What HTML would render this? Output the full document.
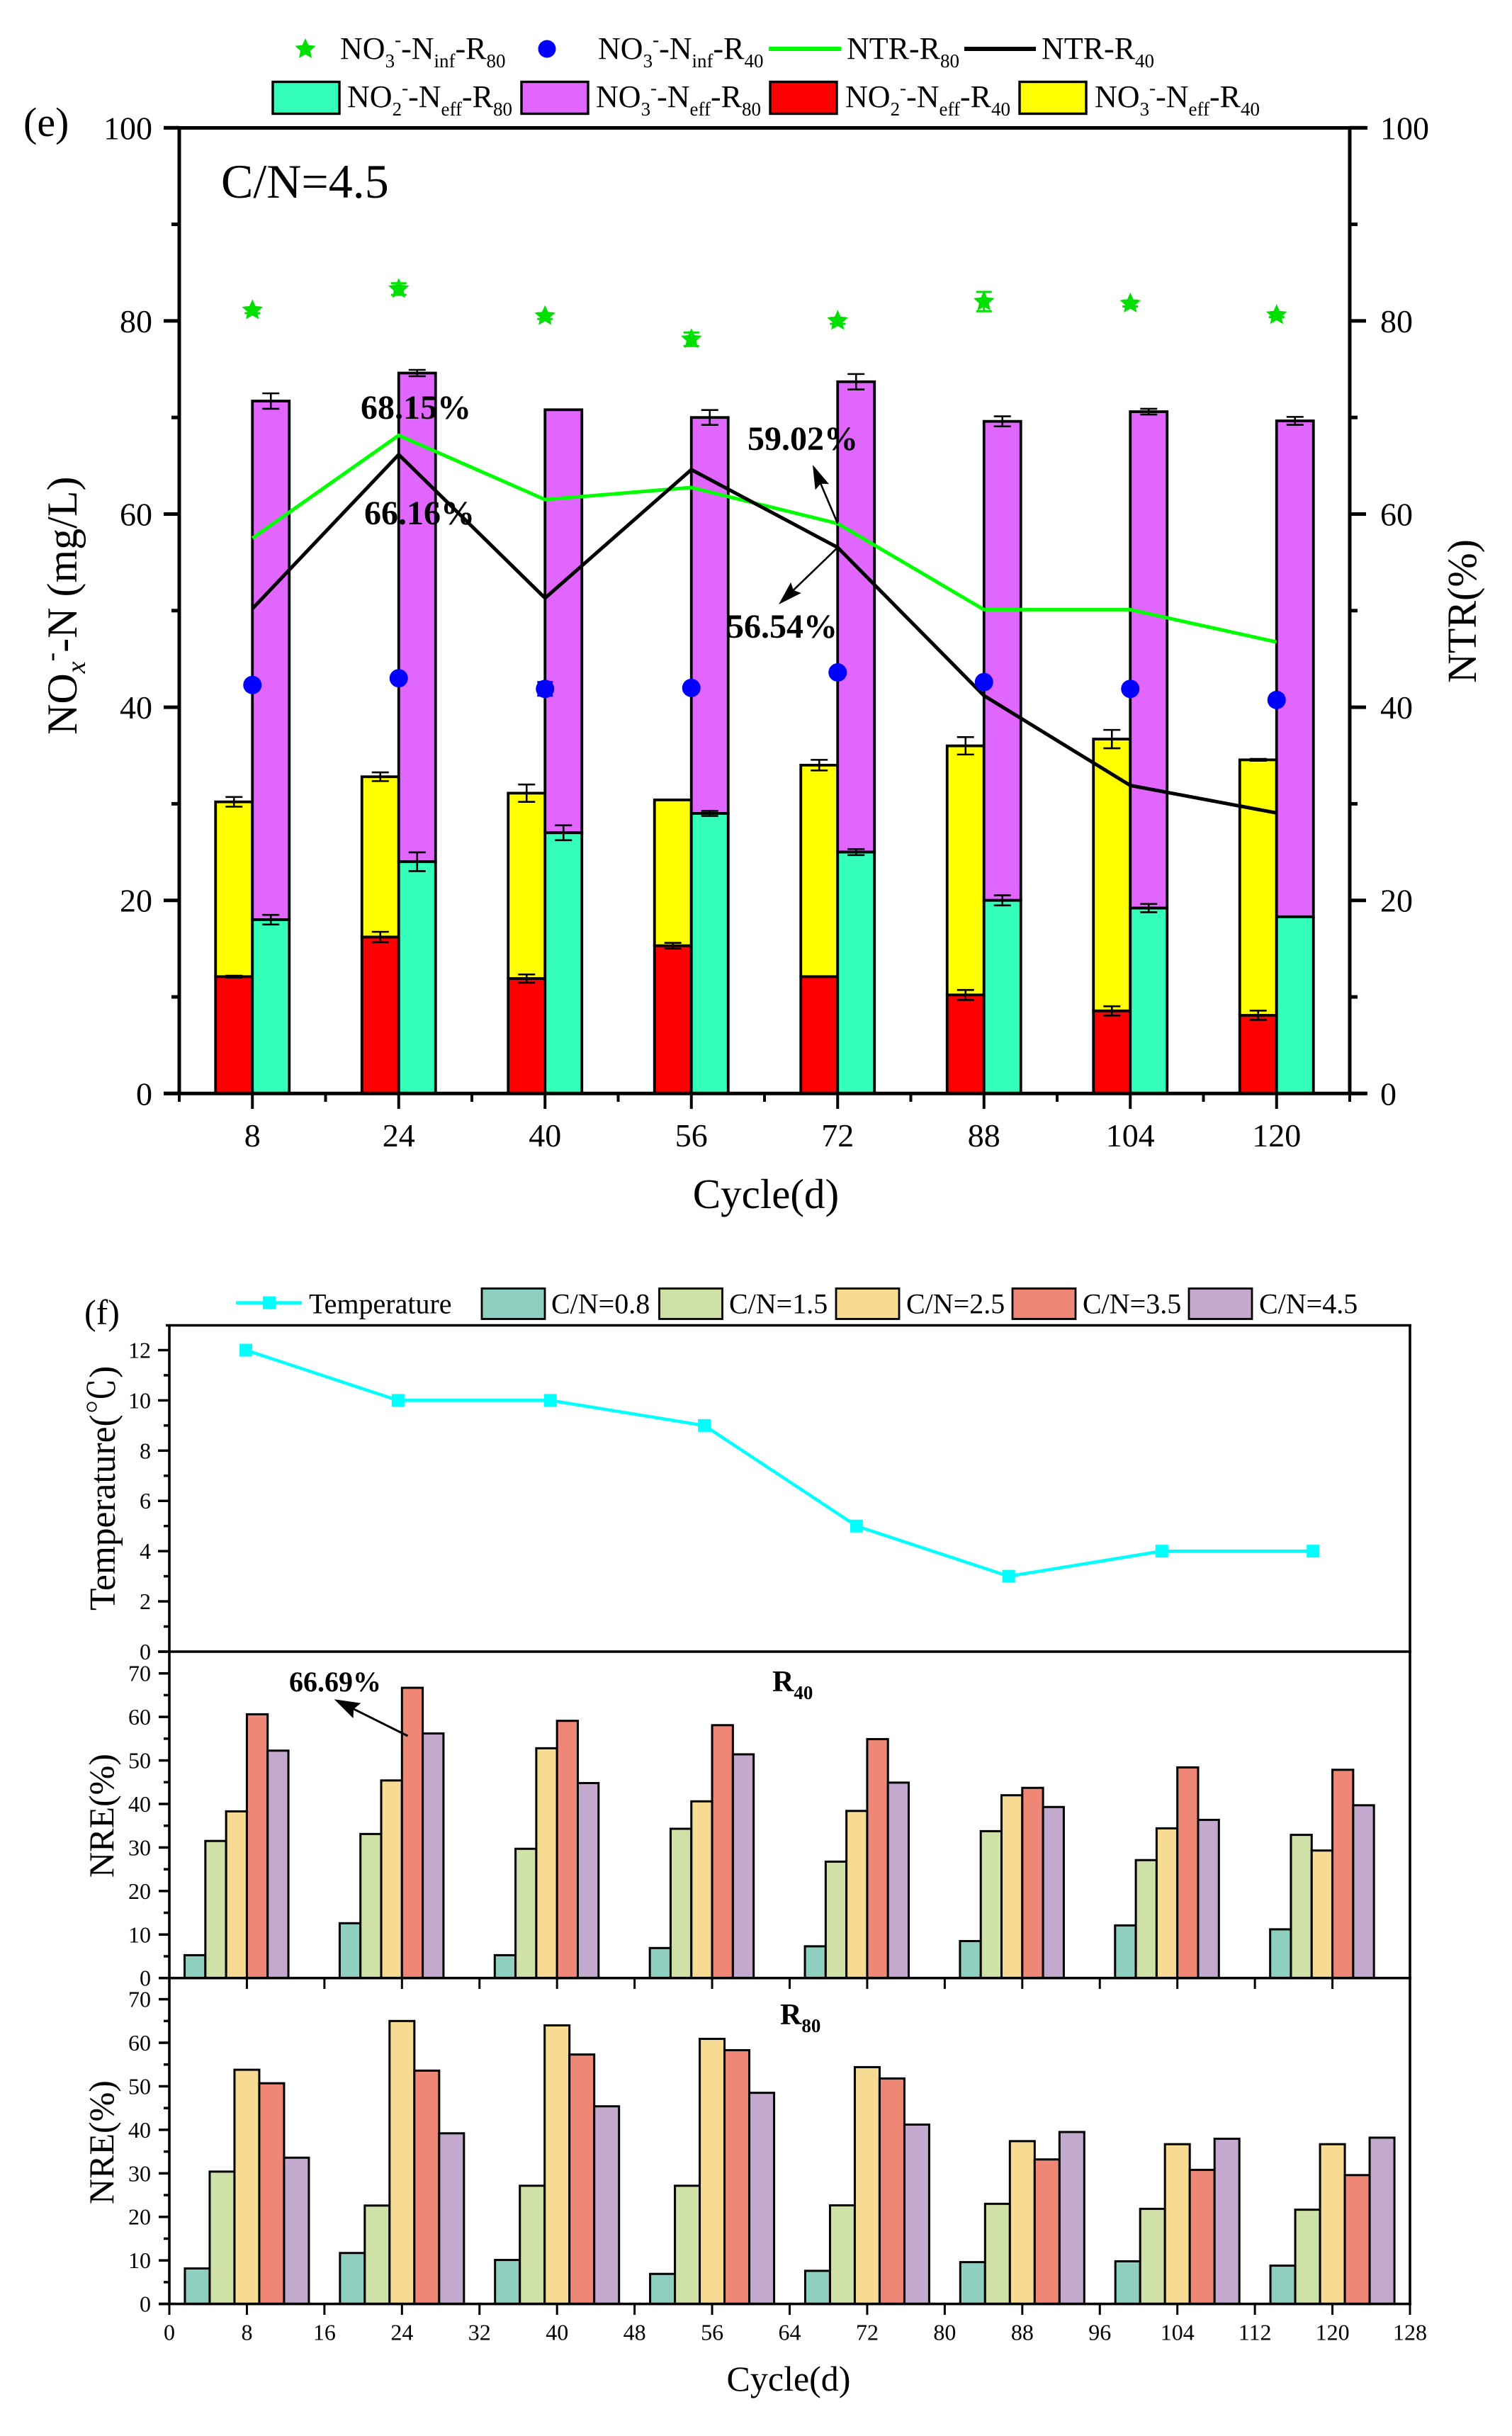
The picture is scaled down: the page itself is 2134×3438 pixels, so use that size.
<!DOCTYPE html>
<html lang="en">
<head>
<meta charset="utf-8">
<title>NOx-N, NTR, temperature and NRE charts</title>
<style>
html,body{margin:0;padding:0;background:#fff;width:2134px;height:3438px;overflow:hidden}
svg{display:block;position:absolute;left:0;top:0}
text{font-family:"Liberation Serif","Noto Serif CJK SC",serif;fill:#000}
.leg{font-size:44px}
.s{font-size:27px}
.leg2{font-size:40px}
</style>
</head>
<body>
<svg id="fig" xmlns="http://www.w3.org/2000/svg" width="2134" height="3438" viewBox="0 0 2134 3438">
  <rect x="0" y="0" width="2134" height="3438" fill="#fff"/>

  <g id="layer-e"></g>
  <g id="layer-f"></g>

  <!-- chart e frame -->
  <g stroke="#000" stroke-width="5" fill="none">
    <line x1="253" y1="180" x2="253" y2="1543"/>
    <line x1="1905" y1="180" x2="1905" y2="1543"/>
    <line x1="231" y1="180.5" x2="1930" y2="180.5"/>
    <line x1="231" y1="1543.3" x2="1930" y2="1543.3"/>
  </g>
  <g id="ticks-e"></g>

  <!-- chart e legend -->
  <g>
    <polygon id="leg-star" fill="#00E000"/>
    <text class="leg" x="480" y="83">NO<tspan class="s" dy="12">3</tspan><tspan class="s" dy="-30">-</tspan><tspan dy="18">-N</tspan><tspan class="s" dy="12">inf</tspan><tspan dy="-12">-R</tspan><tspan class="s" dy="12">80</tspan></text>
    <circle cx="772" cy="69" r="12.5" fill="#0000FF"/>
    <text class="leg" x="844" y="83">NO<tspan class="s" dy="12">3</tspan><tspan class="s" dy="-30">-</tspan><tspan dy="18">-N</tspan><tspan class="s" dy="12">inf</tspan><tspan dy="-12">-R</tspan><tspan class="s" dy="12">40</tspan></text>
    <line x1="1085" y1="69" x2="1187" y2="69" stroke="#00FF00" stroke-width="6"/>
    <text class="leg" x="1195" y="83">NTR-R<tspan class="s" dy="12">80</tspan></text>
    <line x1="1361" y1="69" x2="1462" y2="69" stroke="#000" stroke-width="6"/>
    <text class="leg" x="1470" y="83">NTR-R<tspan class="s" dy="12">40</tspan></text>

    <rect x="385" y="115.5" width="94" height="45" fill="#33FFBB" stroke="#000" stroke-width="3.4"/>
    <text class="leg" x="490" y="151">NO<tspan class="s" dy="12">2</tspan><tspan class="s" dy="-30">-</tspan><tspan dy="18">-N</tspan><tspan class="s" dy="12">eff</tspan><tspan dy="-12">-R</tspan><tspan class="s" dy="12">80</tspan></text>
    <rect x="736" y="115.5" width="94" height="45" fill="#E066FF" stroke="#000" stroke-width="3.4"/>
    <text class="leg" x="841" y="151">NO<tspan class="s" dy="12">3</tspan><tspan class="s" dy="-30">-</tspan><tspan dy="18">-N</tspan><tspan class="s" dy="12">eff</tspan><tspan dy="-12">-R</tspan><tspan class="s" dy="12">80</tspan></text>
    <rect x="1087" y="115.5" width="94" height="45" fill="#FF0000" stroke="#000" stroke-width="3.4"/>
    <text class="leg" x="1193" y="151">NO<tspan class="s" dy="12">2</tspan><tspan class="s" dy="-30">-</tspan><tspan dy="18">-N</tspan><tspan class="s" dy="12">eff</tspan><tspan dy="-12">-R</tspan><tspan class="s" dy="12">40</tspan></text>
    <rect x="1439" y="115.5" width="94" height="45" fill="#FFFF00" stroke="#000" stroke-width="3.4"/>
    <text class="leg" x="1545" y="151">NO<tspan class="s" dy="12">3</tspan><tspan class="s" dy="-30">-</tspan><tspan dy="18">-N</tspan><tspan class="s" dy="12">eff</tspan><tspan dy="-12">-R</tspan><tspan class="s" dy="12">40</tspan></text>
  </g>

  <text x="33" y="192" font-size="58">(e)</text>
  <text x="312" y="279" font-size="68">C/N=4.5</text>
  <text transform="translate(108,1037) rotate(-90)" font-size="60">NO<tspan font-size="38" font-style="italic" dy="12">x</tspan><tspan font-size="38" dy="-36">-</tspan><tspan dy="24">-N (mg/L)</tspan></text>
  <text transform="translate(2083,964) rotate(-90)" font-size="58">NTR(%)</text>
  <text x="1081" y="1705" font-size="59" text-anchor="middle">Cycle(d)</text>

  <g font-weight="bold" font-size="48">
    <text x="509" y="591">68.15%</text>
    <text x="514" y="740">66.16%</text>
    <text x="1055" y="635">59.02%</text>
    <text x="1026" y="900">56.54%</text>
  </g>

  <!-- chart f frame -->
  <g stroke="#000" fill="none">
    <line x1="239" y1="1870" x2="239" y2="3252" stroke-width="3.6"/>
    <line x1="1990" y1="1870" x2="1990" y2="3252" stroke-width="3.6"/>
    <line x1="234" y1="1870.5" x2="1992" y2="1870.5" stroke-width="3.6"/>
    <line x1="224" y1="2331" x2="1992" y2="2331" stroke-width="3.6"/>
    <line x1="224" y1="2791.7" x2="1992" y2="2791.7" stroke-width="3.6"/>
    <line x1="224" y1="3251.6" x2="1992" y2="3251.6" stroke-width="3.6"/>
  </g>
  <g id="ticks-f"></g>

  <!-- chart f legend -->
  <g>
    <line x1="333" y1="1838.6" x2="426" y2="1838.6" stroke="#00FFFF" stroke-width="4.5"/>
    <rect x="371" y="1829.6" width="18" height="18" fill="#00FFFF"/>
    <text class="leg2" x="436" y="1853.5">Temperature</text>
    <rect x="680" y="1818.5" width="89" height="43" fill="#8ECFC0" stroke="#000" stroke-width="2.8"/>
    <text class="leg2" x="778" y="1853.5">C/N=0.8</text>
    <rect x="930.5" y="1818.5" width="89" height="43" fill="#CFE1A6" stroke="#000" stroke-width="2.8"/>
    <text class="leg2" x="1029" y="1853.5">C/N=1.5</text>
    <rect x="1180" y="1818.5" width="89" height="43" fill="#F8DB92" stroke="#000" stroke-width="2.8"/>
    <text class="leg2" x="1279" y="1853.5">C/N=2.5</text>
    <rect x="1429" y="1818.5" width="89" height="43" fill="#EF8776" stroke="#000" stroke-width="2.8"/>
    <text class="leg2" x="1528" y="1853.5">C/N=3.5</text>
    <rect x="1678" y="1818.5" width="89" height="43" fill="#C4A9CF" stroke="#000" stroke-width="2.8"/>
    <text class="leg2" x="1777" y="1853.5">C/N=4.5</text>
  </g>

  <text x="119" y="1869" font-size="50">(f)</text>
  <text transform="translate(162,2273) rotate(-90)" font-size="51.5">Temperature(℃)</text>
  <text transform="translate(160,2650) rotate(-90)" font-size="50">NRE(%)</text>
  <text transform="translate(160,3111) rotate(-90)" font-size="50">NRE(%)</text>
  <text x="1113" y="3374" font-size="50" text-anchor="middle">Cycle(d)</text>
  <text x="1090" y="2387" font-size="42" font-weight="bold">R<tspan font-size="27" dy="11">40</tspan></text>
  <text x="1101" y="2857" font-size="42" font-weight="bold">R<tspan font-size="27" dy="11">80</tspan></text>
  <text x="408" y="2387" font-size="40" font-weight="bold">66.69%</text>
</svg>

<script>
// ---------- chart (e) data ----------
const cyclesE = [8, 24, 40, 56, 72, 88, 104, 120];
const no2EffR40 = [12.1, 16.2, 11.9, 15.3, 12.1, 10.2, 8.55, 8.1];
const no2EffR40Err = [0.1, 0.54, 0.43, 0.3, 0, 0.52, 0.48, 0.48];
const stackTopR40 = [30.2, 32.8, 31.1, 30.4, 34.0, 36.0, 36.7, 34.55];
const stackTopR40Err = [0.5, 0.45, 0.9, 0, 0.55, 0.9, 0.95, 0.1];
const no2EffR80 = [18.0, 24.0, 27.0, 29.0, 25.0, 20.0, 19.2, 18.3];
const no2EffR80Err = [0.5, 0.97, 0.77, 0.26, 0.31, 0.52, 0.43, 0];
const stackTopR80 = [71.7, 74.6, 70.8, 70.0, 73.7, 69.6, 70.6, 69.65];
const stackTopR80Err = [0.8, 0.33, 0, 0.77, 0.8, 0.52, 0.3, 0.41];
const no3InfR80 = [81.1, 83.3, 80.5, 78.1, 80.0, 82.0, 81.8, 80.6];
const no3InfR80Err = [0.3, 0.6, 0.3, 0.7, 0.3, 1.0, 0.3, 0.2];
const no3InfR40 = [42.3, 43.0, 41.9, 42.0, 43.6, 42.6, 41.9, 40.75];
const no3InfR40Err = [0.1, 0.1, 0.7, 0.1, 0.1, 0.1, 0.1, 0.1];
const ntrR80 = [57.5, 68.15, 61.5, 62.75, 59.02, 50.1, 50.1, 46.75];
const ntrR40 = [50.2, 66.16, 51.3, 64.6, 56.54, 41.2, 31.9, 29.05];
const yTicksE = [0, 20, 40, 60, 80, 100];
const yMinorE = [10, 30, 50, 70, 90];
const xTicksE = [8, 24, 40, 56, 72, 88, 104, 120];
const xMinorE = [0, 16, 32, 48, 64, 80, 96, 112, 128];

// ---------- chart (f) data ----------
const tempDays = [7.9, 23.6, 39.3, 55.2, 70.9, 86.6, 102.4, 118];
const tempValues = [12, 10, 10, 9, 5, 3, 4, 4];
const tempTicks = [0, 2, 4, 6, 8, 10, 12];
const tempMinor = [1, 3, 5, 7, 9, 11];
const nreTicks = [0, 10, 20, 30, 40, 50, 60, 70];
const nreMinor = [5, 15, 25, 35, 45, 55, 65];
const cyclesF = [8, 24, 40, 56, 72, 88, 104, 120];
const xTicksF = [0, 8, 16, 24, 32, 40, 48, 56, 64, 72, 80, 88, 96, 104, 112, 120, 128];
const seriesNames = ['cn-0-8', 'cn-1-5', 'cn-2-5', 'cn-3-5', 'cn-4-5'];
const r40Cn08 = [5.26, 12.6, 5.26, 6.9, 7.3, 8.5, 12.1, 11.2];
const r40Cn15 = [31.5, 33.1, 29.7, 34.3, 26.75, 33.75, 27.1, 32.9];
const r40Cn25 = [38.3, 45.4, 52.8, 40.6, 38.4, 42.0, 34.4, 29.3];
const r40Cn35 = [60.6, 66.69, 59.1, 58.1, 54.9, 43.7, 48.4, 47.85];
const r40Cn45 = [52.25, 56.2, 44.8, 51.4, 44.9, 39.3, 36.35, 39.7];
const r80Cn08 = [8.15, 11.7, 10.1, 6.9, 7.6, 9.6, 9.8, 8.8];
const r80Cn15 = [30.4, 22.6, 27.15, 27.15, 22.65, 23.0, 21.85, 21.65];
const r80Cn25 = [53.8, 65.0, 64.0, 60.9, 54.4, 37.4, 36.7, 36.7];
const r80Cn35 = [50.7, 53.6, 57.3, 58.3, 51.8, 33.2, 30.8, 29.6];
const r80Cn45 = [33.6, 39.2, 45.4, 48.5, 41.2, 39.5, 37.95, 38.2];

// ---------- axis functions ----------
const xE = d => 253 + d * (1652 / 128);
const yE = v => 1543.3 - v * 13.63;
const xF = d => 239 + d * (1751 / 128);
const yT = v => 2331 - v * 35.46;
const yR40 = v => 2791.7 - v * 6.143;
const yR80 = v => 3251.6 - v * 6.143;

const NS = 'http://www.w3.org/2000/svg';
function mk(tag, parent, attrs) {
  const n = document.createElementNS(NS, tag);
  for (const k in attrs) n.setAttribute(k, attrs[k]);
  parent.appendChild(n);
  return n;
}
function starPoints(cx, cy, R) {
  const pts = [];
  for (let i = 0; i < 10; i++) {
    const r = i % 2 ? R * 0.47 : R;
    const a = -Math.PI / 2 + i * Math.PI / 5;
    pts.push((cx + r * Math.cos(a)).toFixed(1) + ',' + (cy + r * Math.sin(a)).toFixed(1));
  }
  return pts.join(' ');
}
function drawArrow(parent, name, x1, y1, x2, y2, width, headLen, headW) {
  const dx = x2 - x1, dy = y2 - y1, L = Math.hypot(dx, dy), ux = dx / L, uy = dy / L;
  const shaft = mk('line', parent, {x1: x1, y1: y1, x2: x2 - ux * headLen * 0.8, y2: y2 - uy * headLen * 0.8, stroke: '#000', 'stroke-width': width});
  
  
  const bx = x2 - ux * headLen, by = y2 - uy * headLen;
  const nx = x2 - ux * headLen * 0.85, ny = y2 - uy * headLen * 0.85;
  const pts = [x2 + ',' + y2,
    (bx - uy * headW / 2) + ',' + (by + ux * headW / 2),
    nx + ',' + ny,
    (bx + uy * headW / 2) + ',' + (by - ux * headW / 2)].join(' ');
  const head = mk('polygon', parent, {points: pts, fill: '#000'});
  
  
}
function errorBar(parent, name, cx, yTop, yBottom, cap, color, width) {
  const g = mk('g', parent, {stroke: color, 'stroke-width': width, fill: 'none'});
  
  
  mk('line', g, {x1: cx, y1: yTop, x2: cx, y2: yBottom});
  mk('line', g, {x1: cx - cap, y1: yTop, x2: cx + cap, y2: yTop});
  mk('line', g, {x1: cx - cap, y1: yBottom, x2: cx + cap, y2: yBottom});
}

const layerE = document.getElementById('layer-e');
const layerF = document.getElementById('layer-f');
const ticksE = document.getElementById('ticks-e');
const ticksF = document.getElementById('ticks-f');

// ---------- chart (e): stacked bars ----------
const barW = 52;
cyclesE.forEach((d, i) => {
  const cx = xE(d);
  const parts = [
    ['yellow-no3-r40', cx - barW, stackTopR40[i], no2EffR40[i], '#FFFF00'],
    ['red-no2-r40', cx - barW, no2EffR40[i], 0, '#FF0000'],
    ['purple-no3-r80', cx, stackTopR80[i], no2EffR80[i], '#E066FF'],
    ['teal-no2-r80', cx, no2EffR80[i], 0, '#33FFBB']
  ];
  parts.forEach(p => {
    const b = mk('rect', layerE, {x: p[1], y: yE(p[2]), width: barW, height: yE(p[3]) - yE(p[2]), fill: p[4], stroke: '#000', 'stroke-width': 3.8});
    
    
  });
});
cyclesE.forEach((d, i) => {
  const cx = xE(d), L = cx - barW / 2, R = cx + barW / 2;
  errorBar(layerE, 'error-no2-r40-' + d, L, yE(no2EffR40[i] + no2EffR40Err[i]), yE(no2EffR40[i] - no2EffR40Err[i]), 12, '#000', 2.6);
  errorBar(layerE, 'error-stack-r40-' + d, L, yE(stackTopR40[i] + stackTopR40Err[i]), yE(stackTopR40[i] - stackTopR40Err[i]), 12, '#000', 2.6);
  errorBar(layerE, 'error-no2-r80-' + d, R, yE(no2EffR80[i] + no2EffR80Err[i]), yE(no2EffR80[i] - no2EffR80Err[i]), 12, '#000', 2.6);
  errorBar(layerE, 'error-stack-r80-' + d, R, yE(stackTopR80[i] + stackTopR80Err[i]), yE(stackTopR80[i] - stackTopR80Err[i]), 12, '#000', 2.6);
});

// ---------- chart (e): lines ----------
const lineG = mk('polyline', layerE, {points: cyclesE.map((d, i) => xE(d) + ',' + yE(ntrR80[i])).join(' '), fill: 'none', stroke: '#00FF00', 'stroke-width': 5});


const lineK = mk('polyline', layerE, {points: cyclesE.map((d, i) => xE(d) + ',' + yE(ntrR40[i])).join(' '), fill: 'none', stroke: '#000', 'stroke-width': 5});



// ---------- chart (e): markers ----------
cyclesE.forEach((d, i) => {
  const cx = xE(d);
  errorBar(layerE, 'error-inf-r80-' + d, cx, yE(no3InfR80[i] + no3InfR80Err[i]), yE(no3InfR80[i] - no3InfR80Err[i]), 11, '#00E000', 3);
  const s = mk('polygon', layerE, {points: starPoints(cx, yE(no3InfR80[i]), 15.5), fill: '#00E000'});
  
  
  errorBar(layerE, 'error-inf-r40-' + d, cx, yE(no3InfR40[i] + no3InfR40Err[i]), yE(no3InfR40[i] - no3InfR40Err[i]), 11, '#0000FF', 3);
  const c = mk('circle', layerE, {cx: cx, cy: yE(no3InfR40[i]), r: 13, fill: '#0000FF'});
  
  
});
document.getElementById('leg-star').setAttribute('points', starPoints(431, 69.5, 15.5));

// ---------- chart (e): arrows ----------
drawArrow(layerE, 'arrow-59-02', xE(72), yE(ntrR80[4]), 1147, 656, 2.6, 34, 21);
drawArrow(layerE, 'arrow-56-54', xE(72), yE(ntrR40[4]), 1099, 853, 2.6, 34, 21);

// ---------- chart (e): ticks ----------
yTicksE.forEach(v => {
  const y = yE(v);
  const a = mk('line', ticksE, {x1: 231, y1: y, x2: 253, y2: y, stroke: '#000', 'stroke-width': 5});
  
  
  const b = mk('line', ticksE, {x1: 1905, y1: y, x2: 1928, y2: y, stroke: '#000', 'stroke-width': 5});
  
  
  const t1 = mk('text', ticksE, {x: 215, y: y + 16, 'font-size': 46, 'text-anchor': 'end'});
  t1.textContent = v;
  
  
  const t2 = mk('text', ticksE, {x: 1948, y: y + 16, 'font-size': 46});
  t2.textContent = v;
  
  
});
yMinorE.forEach(v => {
  const y = yE(v);
  const a = mk('line', ticksE, {x1: 242, y1: y, x2: 253, y2: y, stroke: '#000', 'stroke-width': 5});
  
  
  const b = mk('line', ticksE, {x1: 1905, y1: y, x2: 1916, y2: y, stroke: '#000', 'stroke-width': 5});
  
  
});
xTicksE.forEach(d => {
  const x = xE(d);
  const a = mk('line', ticksE, {x1: x, y1: 1543, x2: x, y2: 1565, stroke: '#000', 'stroke-width': 4});
  
  
  const t = mk('text', ticksE, {x: x, y: 1618, 'font-size': 46, 'text-anchor': 'middle'});
  t.textContent = d;
  
  
});
xMinorE.forEach(d => {
  const x = xE(d);
  const a = mk('line', ticksE, {x1: x, y1: 1543, x2: x, y2: 1555, stroke: '#000', 'stroke-width': 4});
  
  
});

// ---------- chart (f): temperature ----------
const tempLine = mk('polyline', layerF, {points: tempDays.map((d, i) => xF(d) + ',' + yT(tempValues[i])).join(' '), fill: 'none', stroke: '#00FFFF', 'stroke-width': 4.5});


tempDays.forEach((d, i) => {
  const m = mk('rect', layerF, {x: xF(d) - 9, y: yT(tempValues[i]) - 9, width: 18, height: 18, fill: '#00FFFF'});
  
  
});

// ---------- chart (f): NRE bars ----------
const barColors = ['#8ECFC0', '#CFE1A6', '#F8DB92', '#EF8776', '#C4A9CF'];
function nreBars(name, seriesList, yFn, w, offset) {
  seriesList.forEach((vals, s) => {
    vals.forEach((v, i) => {
      const left = xF(cyclesF[i]) + (s - offset) * w;
      const b = mk('rect', layerF, {x: left, y: yFn(v), width: w, height: yFn(0) - yFn(v), fill: barColors[s], stroke: '#000', 'stroke-width': 3});
      
      
    });
  });
}
nreBars('r40', [r40Cn08, r40Cn15, r40Cn25, r40Cn35, r40Cn45], yR40, 29.3, 3);
nreBars('r80', [r80Cn08, r80Cn15, r80Cn25, r80Cn35, r80Cn45], yR80, 35, 2.5);
drawArrow(layerF, 'arrow-66-69', 575.5, 2450, 471.7, 2398.3, 3, 36, 24);

// ---------- chart (f): ticks ----------
tempTicks.forEach(v => {
  const y = yT(v);
  const a = mk('line', ticksF, {x1: 223, y1: y, x2: 239, y2: y, stroke: '#000', 'stroke-width': 3.5});
  
  
  const t = mk('text', ticksF, {x: 213, y: y + 11, 'font-size': 32, 'text-anchor': 'end'});
  t.textContent = v;
  
  
});
tempMinor.forEach(v => {
  const a = mk('line', ticksF, {x1: 231, y1: yT(v), x2: 239, y2: yT(v), stroke: '#000', 'stroke-width': 3.5});
  
  
});
[['r40', yR40], ['r80', yR80]].forEach(p => {
  nreTicks.forEach(v => {
    const y = p[1](v);
    const a = mk('line', ticksF, {x1: 224, y1: y, x2: 239, y2: y, stroke: '#000', 'stroke-width': 3.5});
    
    
    const t = mk('text', ticksF, {x: 213, y: y + 11, 'font-size': 32, 'text-anchor': 'end'});
    t.textContent = v;
    
    
  });
  nreMinor.forEach(v => {
    const a = mk('line', ticksF, {x1: 231, y1: p[1](v), x2: 239, y2: p[1](v), stroke: '#000', 'stroke-width': 3.5});
    
    
  });
});
xTicksF.forEach(d => {
  const x = xF(d);
  const a = mk('line', ticksF, {x1: x, y1: 2791.7, x2: x, y2: 2807, stroke: '#000', 'stroke-width': 3});
  
  
  const b = mk('line', ticksF, {x1: x, y1: 3251.6, x2: x, y2: 3267, stroke: '#000', 'stroke-width': 3});
  
  
  const t = mk('text', ticksF, {x: x, y: 3302.5, 'font-size': 32, 'text-anchor': 'middle'});
  t.textContent = d;
  
  
});
</script>
</body>
</html>
